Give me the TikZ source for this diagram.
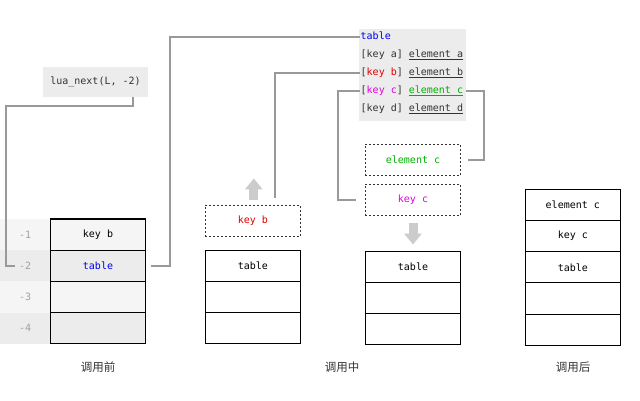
\documentclass[tikz,border=0pt]{standalone}
\usepackage{fontspec}
\setmonofont{DejaVu Sans Mono}
\newfontfamily\cjkfont{Noto Sans CJK SC}
\usetikzlibrary{arrows.meta,positioning}
\definecolor{linkgray}{HTML}{999999}
\definecolor{movegray}{HTML}{CCCCCC}
\definecolor{cellA}{HTML}{F5F5F5}
\definecolor{cellB}{HTML}{ECECEC}
\definecolor{idxgray}{HTML}{A0A0A0}
\definecolor{txtgray}{HTML}{333333}
\definecolor{colkeyb}{HTML}{E00000}
\definecolor{colkeyc}{HTML}{E000E0}
\definecolor{colelemc}{HTML}{00B000}
\definecolor{coltable}{HTML}{0000EE}
\newcommand{\codefont}{\ttfamily\fontsize{10}{12}\selectfont}

\begin{document}
\begin{tikzpicture}[
        x=1pt, y=1pt,
        cell/.style={draw, line width=1.1pt, outer sep=0pt, inner sep=0pt, minimum width=95.5pt, minimum height=31.2pt, font=\codefont, fill=white},
        idx/.style={outer sep=0pt, inner sep=0pt, minimum width=50pt, minimum height=31.2pt, font=\codefont, text=idxgray},
        pending/.style={cell, draw=txtgray, line width=0.9pt, dash pattern=on 2pt off 2pt},
        tline/.style={anchor=west, inner sep=1pt, font=\codefont, text=txtgray, text height=7pt, text depth=2pt},
        caption/.style={font=\cjkfont\fontsize{11.5}{13}\selectfont, text=txtgray},
        link/.style={draw=linkgray, line width=2pt},
        move/.style={draw=movegray, line width=9pt, -{Triangle[width=17pt,length=11pt]}}
        ]
        \useasboundingbox (0,0) rectangle (640,400);

        % before the call
        \node[cell, fill=cellA, anchor=north] (lt1) at (98,181) {key b};
        \node[cell, fill=cellB, below=0pt of lt1] (lt2) {\color{coltable}table};
        \node[cell, fill=cellA, below=0pt of lt2] (lt3) {};
        \node[cell, fill=cellB, below=0pt of lt3] (lt4) {};
        \node[idx, fill=cellA, left=0pt of lt1] (idx1) {-1};
        \node[idx, fill=cellB, left=0pt of lt2] (idx2) {-2};
        \node[idx, fill=cellA, left=0pt of lt3] (idx3) {-3};
        \node[idx, fill=cellB, left=0pt of lt4] (idx4) {-4};
        \node[fill=cellB, minimum width=105pt, minimum height=30pt, inner sep=0pt, font=\codefont, text=txtgray] (luanext) at (95.5,318) {lua\_next(L, -2)};

        % the table
        \node[fill=cellB, minimum width=107pt, minimum height=92pt, inner sep=0pt] (tblbox) at (412.5,325) {};
        \node[tline, text=coltable] (tname) at (359.5,362.7) {table};
        \node[tline] (tkeya) at (359.5,344.7) {[key a] \underline{element a}};
        \node[tline] (tkeyb) at (359.5,326.7) {[{\color{colkeyb}key b}] \underline{element b}};
        \node[tline] (tkeyc) at (359.5,308.7) {[{\color{colkeyc}key c}] {\color{colelemc}\underline{element c}}};
        \node[tline] (tkeyd) at (359.5,290.7) {[key d] \underline{element d}};

        % during the call
        \node[pending, text=colkeyb] (keyb) at (252.8,179) {key b};
        \node[cell, anchor=north] (ms1) at (252.8,149.7) {table};
        \node[cell, below=0pt of ms1] (ms2) {};
        \node[cell, below=0pt of ms2] (ms3) {};
        \node[pending, text=colelemc] (elemc) at (413,240.2) {element c};
        \node[pending, text=colkeyc, below=9pt of elemc] (keyc) {key c};
        \node[cell, anchor=north] (ns1) at (413,148.7) {table};
        \node[cell, below=0pt of ns1] (ns2) {};
        \node[cell, below=0pt of ns2] (ns3) {};

        % after the call
        \node[cell, anchor=north] (rt1) at (572.8,210.7) {element c};
        \node[cell, below=0pt of rt1] (rt2) {key c};
        \node[cell, below=0pt of rt2] (rt3) {table};
        \node[cell, below=0pt of rt3] (rt4) {};
        \node[cell, below=0pt of rt4] (rt5) {};

        \node[caption] (capbefore) at (98,33) {调用前};
        \node[caption] (capduring) at (342,33) {调用中};
        \node[caption] (capafter) at (573,33) {调用后};

        % connectors
        \coordinate (kbtop) at ([xshift=22pt,yshift=7pt]keyb.north);
        \draw[link] ([xshift=37.5pt]luanext.south) -- ++(0,-9) -| ([xshift=6pt]idx2.west) -- ([xshift=15pt]idx2.west);
        \draw[link] ([xshift=5pt]lt2.east) -- ++(19,0) |- (tname.west);
        \draw[link] (tkeyb.west) -| (kbtop);
        \draw[link] (tkeyc.west) -- ++(-22,0) |- ([xshift=-9pt]keyc.west);
        \draw[link] ([xshift=2pt]tkeyc.east) -- ++(18,0) |- ([xshift=7pt]elemc.east);

        \draw[move] ([xshift=1pt,yshift=5pt]keyb.north) -- ++(0,22);
        \draw[move] ([yshift=-7pt]keyc.south) -- ++(0,-22);
    \end{tikzpicture}
\end{document}
